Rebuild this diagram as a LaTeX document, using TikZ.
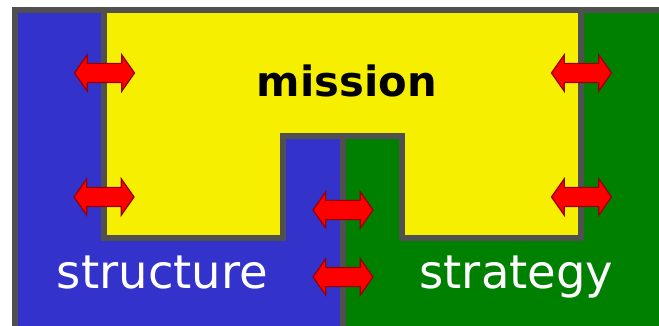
\documentclass[tikz,border=0pt]{standalone}
\usepackage{fontspec}
\setmainfont{DejaVu Sans}
\usepackage{tikz}
\usetikzlibrary{shapes.arrows}

\definecolor{structblue}{RGB}{51,51,204}
\definecolor{stratgreen}{RGB}{0,128,0}
\definecolor{missionyellow}{RGB}{246,240,0}
\definecolor{framegray}{RGB}{80,80,80}
\definecolor{arrowred}{RGB}{255,0,0}
\definecolor{arrowedge}{RGB}{150,0,0}

\tikzset{
	twoway/.style={double arrow, fill=arrowred, draw=arrowedge, line width=1.2pt,
		minimum height=60pt, minimum width=35pt, inner xsep=0pt, inner ysep=9pt,
		double arrow head extend=8.5pt, double arrow tip angle=110},
	frameline/.style={draw=framegray, line width=6pt},
	bigword/.style={anchor=base, inner sep=0pt, font=\fontsize{46.5}{50}\selectfont}
}

\begin{document}
\begin{tikzpicture}[x=1pt,y=-1pt]
	\useasboundingbox (0,0) rectangle (659,326);

	% the three areas
	\fill[structblue] (15,10) rectangle (343,326);
	\fill[stratgreen] (343,10) rectangle (659,326);
	\filldraw[fill=missionyellow, frameline] (103.5,10) -- (103.5,238) -- (283,238)
		-- (283,136) -- (402,136) -- (402,238) -- (580.5,238) -- (580.5,10) -- cycle;
	\draw[frameline] (15,326) -- (15,10) -- (659,10);
	\draw[frameline] (343,136) -- (343,326);

	% labels
	\node[bigword, font=\bfseries\fontsize{41.7}{45}\selectfont] (mission) at (347,97) {mission};
	\node[bigword, text=white] (structure) at (162.5,288) {structure};
	\node[bigword, text=white] (strategy) at (516.5,288) {strategy};

	% arrows across the borders
	\node[twoway] (ms1) at (104.5,73) {};
	\node[twoway] (ms2) at (104,197) {};
	\node[twoway] (mg1) at (581.5,73) {};
	\node[twoway] (mg2) at (581.5,197) {};
	\node[twoway] (sg1) at (343,210) {};
	\node[twoway] (sg2) at (343,277) {};
\end{tikzpicture}
\end{document}
